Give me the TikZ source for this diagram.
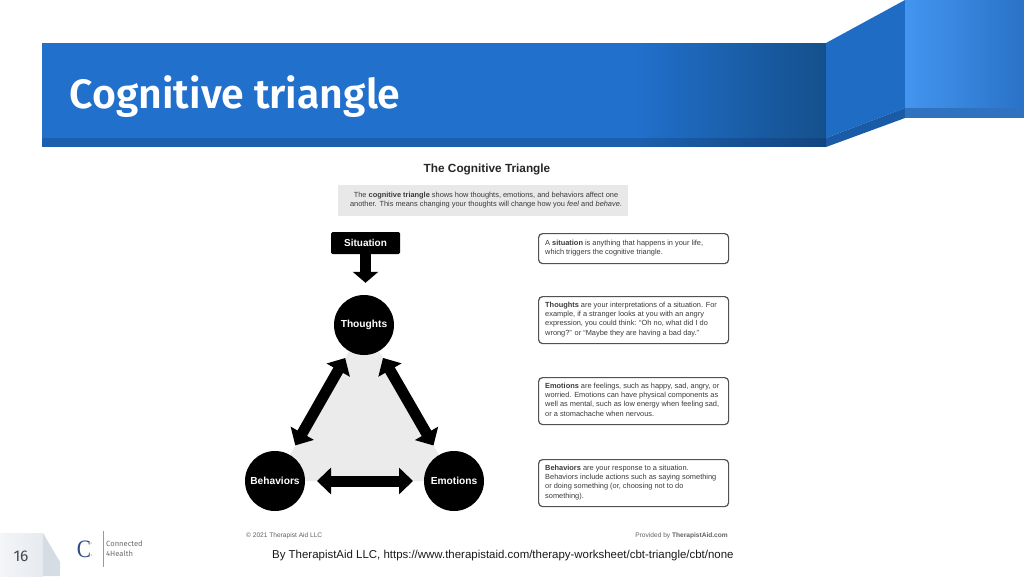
\documentclass[tikz,border=0pt]{standalone}
\usepackage{fontspec}
\setmainfont{Liberation Sans}
\newfontfamily\titlefont{Fira Sans}[UprightFont=* SemiBold]
\newfontfamily\plainfira{Fira Sans}
\usetikzlibrary{arrows.meta,backgrounds}
\definecolor{hdr}{HTML}{2170CC}
\definecolor{hdrdark}{HTML}{14508C}
\definecolor{strip}{HTML}{1C5FAE}
\definecolor{stripdark}{HTML}{124580}
\definecolor{slant}{HTML}{1F6CC4}
\definecolor{slantstrip}{HTML}{1A5BA8}
\definecolor{bluelight}{HTML}{4395EF}
\definecolor{blueright}{HTML}{2A72C8}
\definecolor{blockstrip}{HTML}{2E72C0}
\definecolor{bodytxt}{HTML}{3A3A3A}
\definecolor{tabl}{HTML}{F3F5F8}
\definecolor{tabr}{HTML}{E6EAEF}
\definecolor{tabs}{HTML}{D5DCE4}
\definecolor{logoblue}{HTML}{2E4C86}
\tikzset{
  x=1pt,y=-1pt,
  smalltxt/.style={inner sep=0pt,align=left,anchor=north west,text=bodytxt,font=\fontsize{7.4}{9.2}\selectfont},
  infobox/.style={draw=black!68,line width=1.2pt,rounded corners=4pt,fill=white,inner sep=0pt,anchor=north west},
  hub/.style={circle,fill=black,minimum size=60pt,inner sep=0pt,text=white,font=\fontsize{10.2}{12}\selectfont\bfseries},
  biarrow/.style={line width=11pt,{Triangle[length=14pt,width=26pt]}-{Triangle[length=14pt,width=26pt]}},
  footnote/.style={inner sep=0pt,text=black!62,font=\fontsize{6.6}{8}\selectfont},
}
\begin{document}
\begin{tikzpicture}
\useasboundingbox (0,0) rectangle (1024,576);
% header
\fill[hdr] (42,43) rectangle (636,138);
\fill[strip] (42,138) rectangle (636,147);
\begin{scope}
\clip (635,43) rectangle (826,138);
\shade[left color=hdr,right color=hdrdark] (635,43) rectangle (826,138);
\end{scope}
\begin{scope}
\clip (635,138) rectangle (826,146.4);
\shade[left color=strip,right color=stripdark] (635,138) rectangle (826,146.4);
\end{scope}
\fill[slant] (826,43) -- (905,0) -- (905,108) -- (826,138) -- cycle;
\fill[slantstrip] (826,138) -- (905,108) -- (905,118) -- (826,147) -- cycle;
\begin{scope}
\clip (905,0) rectangle (1024,108);
\shade[left color=bluelight,right color=blueright] (905,0) rectangle (1024,108);
\end{scope}
\fill[blockstrip] (905,108) rectangle (1024,118);
\node[inner sep=0pt,anchor=base west,text=white,font=\titlefont\fontsize{41}{46}\selectfont] (title) at (69.5,108) {Cognitive triangle};
% worksheet head
\node[inner sep=0pt,font=\fontsize{11.8}{14}\selectfont\bfseries,text=black!85] (wtitle) at (487,169) {The Cognitive Triangle};
\node[fill=black!9,minimum width=290pt,minimum height=31pt,inner sep=0pt,anchor=north west] (introbox) at (338,185) {};
\node[inner sep=0pt,align=center,text=bodytxt,font=\fontsize{7.4}{9.25}\selectfont] (intro) at (486,200) {The \textbf{cognitive triangle} shows how thoughts, emotions, and behaviors affect one\\another. This means changing your thoughts will change how you \textit{feel} and \textit{behave}.};
% triangle
\node[hub] (thoughts) at (364,325) {Thoughts};
\node[hub] (behaviors) at (275,481) {Behaviors};
\node[hub] (emotions) at (454,481) {Emotions};
\begin{scope}[on background layer]
\fill[black!8] (thoughts.center) -- (behaviors.center) -- (emotions.center) -- cycle;
\end{scope}
\draw[biarrow,shorten <=38pt,shorten >=41pt] (thoughts.center) -- (behaviors.center);
\draw[biarrow,shorten <=38pt,shorten >=41pt] (thoughts.center) -- (emotions.center);
\draw[biarrow,shorten <=42pt,shorten >=41pt] (behaviors.center) -- (emotions.center);
\node[fill=black,rounded corners=1.5pt,minimum width=69pt,minimum height=22pt,inner sep=0pt,text=white,font=\fontsize{10}{12}\selectfont\bfseries] (situation) at (365.5,243) {Situation};
\draw[line width=11pt,-{Triangle[length=11pt,width=25pt]},shorten >=12pt] (situation.south) -- (situation.south |- thoughts.north);
% info boxes
\node[infobox,minimum width=190pt,minimum height=30pt] (b1) at (538,233) {};
\node[smalltxt] (t1) at (545,240) {A \textbf{situation} is anything that happens in your life,\\which triggers the cognitive triangle.};
\node[infobox,minimum width=190pt,minimum height=47pt] (b2) at (538,296) {};
\node[smalltxt] (t2) at (545,302) {\textbf{Thoughts} are your interpretations of a situation. For\\example, if a stranger looks at you with an angry\\expression, you could think: ``Oh no, what did I do\\wrong?'' or ``Maybe they are having a bad day.''};
\node[infobox,minimum width=190pt,minimum height=47pt] (b3) at (538,377) {};
\node[smalltxt] (t3) at (545,383) {\textbf{Emotions} are feelings, such as happy, sad, angry, or\\worried. Emotions can have physical components as\\well as mental, such as low energy when feeling sad,\\or a stomachache when nervous.};
\node[infobox,minimum width=190pt,minimum height=47pt] (b4) at (538,459) {};
\node[smalltxt] (t4) at (545,465) {\textbf{Behaviors} are your response to a situation.\\Behaviors include actions such as saying something\\or doing something (or, choosing not to do\\something).};
% sheet footer
\node[footnote,anchor=west] (copy) at (246,535.5) {© 2021 Therapist Aid LLC};
\node[footnote,anchor=east] (prov) at (728,535.5) {Provided by \textbf{TherapistAid.com}};
\node[inner sep=0pt,anchor=west,text=black!90,font=\fontsize{11.45}{13}\selectfont] (src) at (272,555.5) {By TherapistAid LLC, https://www.therapistaid.com/therapy-worksheet/cbt-triangle/cbt/none};
% slide footer
\begin{scope}
\clip (0,533) rectangle (43,576);
\shade[left color=tabl,right color=tabr] (0,533) rectangle (43,576);
\end{scope}
\fill[tabs] (43,533) -- (60,562) -- (60,576) -- (43,576) -- cycle;
\node[inner sep=0pt,text=black!72,font=\plainfira\fontsize{15.5}{18}\selectfont] (page) at (21,556) {16};
\node[inner sep=0pt,text=logoblue,xscale=.85,font=\fontsize{25}{28}\selectfont] (logo) at (84,549) {\fontspec{Liberation Serif}C};
\fill[yellow!65!black!60] (91,543) circle (0.8pt) (91.5,555) circle (0.8pt) (85,558) circle (0.6pt);
\draw[black!40,line width=0.7pt] (103,531) -- (103,567);
\node[inner sep=0pt,anchor=west,text=black!58,font=\plainfira\fontsize{7.6}{10}\selectfont] (conn) at (106,544) {Connected};
\node[inner sep=0pt,anchor=west,text=black!58,font=\plainfira\fontsize{7.6}{10}\selectfont] (health) at (106,554) {4Health};
\end{tikzpicture}
\end{document}
